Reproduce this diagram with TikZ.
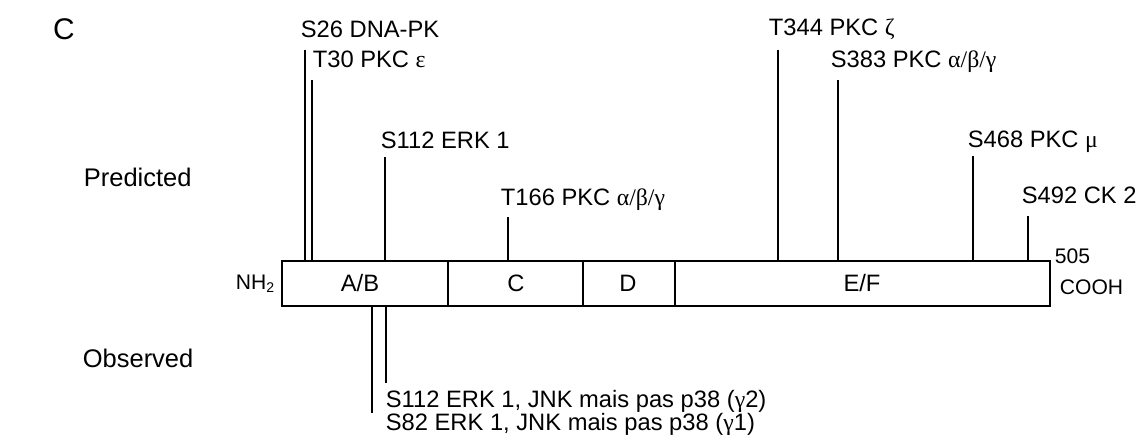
\documentclass[tikz,border=0pt]{standalone}
\usepackage{fontspec}
\setmainfont{Liberation Sans}
\newfontfamily\grk{Liberation Serif}
\usetikzlibrary{positioning}

\newcommand{\gk}[1]{{\grk #1}}
\newcommand{\abg}{\gk{α/β/γ}}

\begin{document}
\begin{tikzpicture}[x=0.02cm, y=-0.02cm, line width=1pt,
    every node/.style={inner sep=0pt, font=\fontsize{13.5}{15}\selectfont},
    site/.style={anchor=base west},
    side/.style={anchor=west, font=\fontsize{14.5}{16}\selectfont},
    term/.style={anchor=base west, font=\fontsize{12}{14}\selectfont}]
  \useasboundingbox (0,0) rectangle (1137,436);

  % panel letter and row titles
  \node (panel) at (64,29) {\fontsize{17}{19}\selectfont C};
  \node[side] (pred) at (83,177) {Predicted};
  \node[side] (obs) at (82,358) {Observed};

  % domains
  \draw (282,261) rectangle (1050,306);
  \foreach \x in {448,583,675}
    \draw (\x,261) -- (\x,306);
  \node (ab) at (360,283) {A/B};
  \node (c) at (516,283) {C};
  \node (d) at (628,283) {D};
  \node (ef) at (862,283) {E/F};
  \node[term, anchor=base east] (nh2) at (276,289) {NH\textsubscript{2}};
  \node[term] (len) at (1054,263) {505};
  \node[term] (cooh) at (1059,294) {COOH};

  % predicted sites
  \foreach \n/\x/\y/\lx/\ly/\t in {s26/305/50/300/37/S26 DNA-PK,
      t30/312/80/312/68/T30 PKC \gk{ε},
      s112/385/157/380/148/S112 ERK 1,
      t166/508/217/500/205/T166 PKC \abg,
      t344/778/50/768/35/T344 PKC \gk{ζ},
      s383/838/80/830/68/S383 PKC \abg,
      s468/973/156/967/147/S468 PKC \gk{μ},
      s492/1028/216/1021/203/S492 CK 2}{
    \coordinate (\n-b) at (\x,261);
    \coordinate (\n-t) at (\x,\y);
    \draw (\n-b) -- (\n-t);
    \node[site] (\n-l) at (\lx,\ly) {\t};
  }

  % observed sites
  \foreach \n/\x/\y/\ly/\t in {o82/372/413/430/{S82 ERK 1, JNK mais pas p38 (\gk{γ}1)},
      o112/386/383/407/{S112 ERK 1, JNK mais pas p38 (\gk{γ}2)}}{
    \coordinate (\n-b) at (\x,306);
    \coordinate (\n-t) at (\x,\y);
    \draw (\n-b) -- (\n-t);
    \node[site] (\n-l) at (385,\ly) {\t};
  }
\end{tikzpicture}
\end{document}
